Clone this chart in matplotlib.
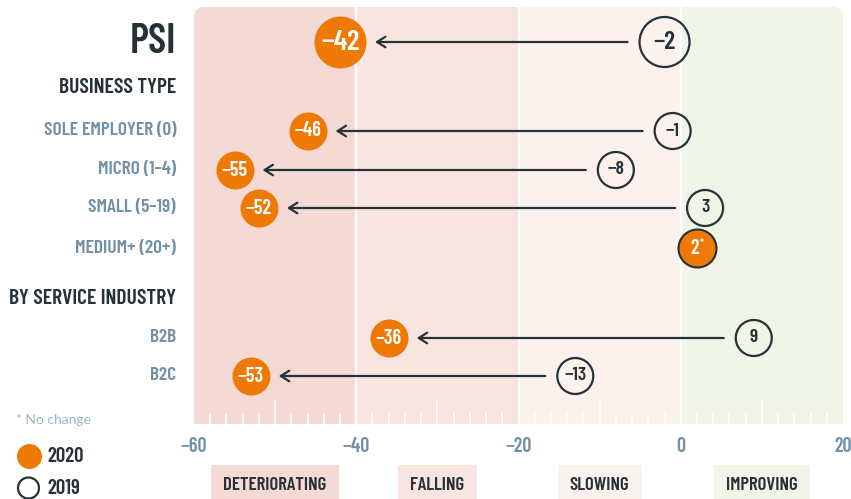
import matplotlib
matplotlib.use('Agg')
import matplotlib.pyplot as plt
from matplotlib import font_manager
from matplotlib.patches import FancyBboxPatch

# data
rows = ['PSI', 'SOLE EMPLOYER (0)', 'MICRO (1–4)', 'SMALL (5–19)', 'MEDIUM+ (20+)', 'B2B', 'B2C']
val_2020 = [-42, -46, -55, -52, 2, -36, -53]
val_2019 = [-2, -1, -8, 3, 2, 9, -13]
no_change = [False, False, False, False, True, False, False]
headers = ['BUSINESS TYPE', 'BY SERVICE INDUSTRY']
zones = ['DETERIORATING', 'FALLING', 'SLOWING', 'IMPROVING']
zone_edges = [-60, -40, -20, 0, 20]
xticks = [-60, -40, -20, 0, 20]

# layout (pixel rows)
row_y = [42, 131, 170, 208, 248, 338, 376]
W, H = 851, 499

ORANGE = '#ee7a05'
DARK = '#263238'
SLATE = '#7390a6'
zone_colors = ['#f5d9d5', '#f8e5e0', '#fcf2ed', '#f1f5e8']

names = {f.name for f in font_manager.fontManager.ttflist}


def pick(cands):
    for c in cands:
        if c in names:
            return c
    return 'DejaVu Sans'


COND = pick(['Barlow Condensed', 'Roboto Condensed', 'Saira Condensed', 'Sofia Sans Condensed'])
SANS = pick(['Lato', 'Open Sans'])
WT = 600

fig = plt.figure(figsize=(W / 100, H / 100), dpi=100)
ax = fig.add_axes([194 / W, 1 - 424 / H, (843 - 194) / W, (424 - 7) / H])
ax.set_xlim(-60, 20)
ax.set_ylim(424, 7)
ax.axis('off')

px_per_unit = (843 - 194) / 80.0


def ftext(x, y, s, **kw):
    # text placed in figure pixels (top-left origin)
    return fig.text(x / W, 1 - y / H, s, **kw)


def lab(v):
    return ('−%d' % abs(v)) if v < 0 else '%d' % v


# background zones with rounded top corners
clip = FancyBboxPatch((-60, 7), 80, 460, boxstyle='round,pad=0,rounding_size=%f' % (10 / px_per_unit),
                      mutation_aspect=px_per_unit, transform=ax.transData, facecolor='none', edgecolor='none')
ax.add_patch(clip)
for i in range(4):
    band = ax.axvspan(zone_edges[i], zone_edges[i + 1], color=zone_colors[i], lw=0, zorder=0)
    band.set_clip_path(clip)

for x in [-40, -20, 0]:
    ax.axvline(x, color='white', lw=1.6, zorder=1)

# ruler ticks along the bottom
for x in range(-58, 20, 2):
    if x in (-40, -20, 0):
        continue
    top = 400 if x % 10 == 0 else 413
    ax.vlines(x, top, 424, color='white', lw=1.2, zorder=1)

for x in xticks:
    ax.text(x, 446, lab(x), ha='center', va='center',
            fontsize=14.5, color=SLATE, fontweight=WT, family=COND)

zone_centers = [(zone_edges[i] + zone_edges[i + 1]) / 2 for i in range(4)]
for c, name, col in zip(zone_centers, zones, zone_colors):
    ax.text(c, 486, name, ha='center', va='center', fontsize=13.5, fontweight=WT, color=DARK,
            family=COND, bbox=dict(boxstyle='square,pad=0.65', fc=col, ec='none'))

# arrows and circles
for i, (a, b, y) in enumerate(zip(val_2020, val_2019, row_y)):
    big = i == 0
    r20 = 26 if big else 19
    r19 = 25 if big else 18
    s20 = (2 * r20 * 0.72) ** 2
    s19 = (2 * r19 * 0.72) ** 2
    fs20 = 21 if big else 14.5
    fs19 = 18.5 if big else 14
    if no_change[i]:
        ax.scatter([a], [y], s=s20, color=ORANGE, edgecolor=DARK, lw=1.5, zorder=4)
        ax.annotate(lab(a), (a, y), xytext=(-1.5, 0), textcoords='offset points', ha='center', va='center',
                    color='white', fontsize=fs20, fontweight=WT, family=COND, zorder=5)
        ax.annotate('*', (a, y), xytext=(3.8, 3.5), textcoords='offset points', ha='center', va='center',
                    color='white', fontsize=8, fontweight=WT, family=COND, zorder=5)
        continue
    ax.annotate('', xy=(a, y), xytext=(b, y),
                arrowprops=dict(arrowstyle='->,head_length=0.6,head_width=0.38', lw=1.6, color=DARK,
                                shrinkA=(r19 + 12) * 0.72, shrinkB=(r20 + 9) * 0.72, mutation_scale=10),
                zorder=2)
    ax.scatter([b], [y], s=s19, facecolor='none', edgecolor=DARK, lw=1.6, zorder=3)
    ax.text(b, y, lab(b), ha='center', va='center', color=DARK, fontsize=fs19,
            fontweight=WT, family=COND, zorder=5)
    ax.scatter([a], [y], s=s20, color=ORANGE, lw=0, zorder=4)
    ax.text(a, y, lab(a), ha='center', va='center', color='white', fontsize=fs20,
            fontweight=WT, family=COND, zorder=5)

# left labels
ftext(176, row_y[0], rows[0], ha='right', va='center', fontsize=30, fontweight=WT, color=DARK, family=COND)
ftext(176, 87, headers[0], ha='right', va='center', fontsize=15.6, fontweight=WT, color=DARK, family=COND)
ftext(176, 298, headers[1], ha='right', va='center', fontsize=15.6, fontweight=WT, color=DARK, family=COND)
for name, y in zip(rows[1:], row_y[1:]):
    ftext(176, y, name, ha='right', va='center', fontsize=14, fontweight=WT, color=SLATE, family=COND)

# legend
ftext(16, 420, '* No change', ha='left', va='center', fontsize=10, color='#9fb5c4', family=SANS)
ftext(47, 456, '2020', ha='left', va='center', fontsize=15, fontweight=WT, color=DARK, family=COND)
ftext(47, 488, '2019', ha='left', va='center', fontsize=15, fontweight=WT, color=DARK, family=COND)
leg_ax = fig.add_axes([0, 0, 1, 1], zorder=-1)
leg_ax.set_xlim(0, W)
leg_ax.set_ylim(H, 0)
leg_ax.axis('off')
leg_ax.scatter([28.5], [456], s=(25 * 0.72) ** 2, color=ORANGE, lw=0)
leg_ax.scatter([28.5], [488], s=(21 * 0.72) ** 2, facecolor='none', edgecolor=DARK, lw=1.6)

fig.savefig('out.png', dpi=100)
